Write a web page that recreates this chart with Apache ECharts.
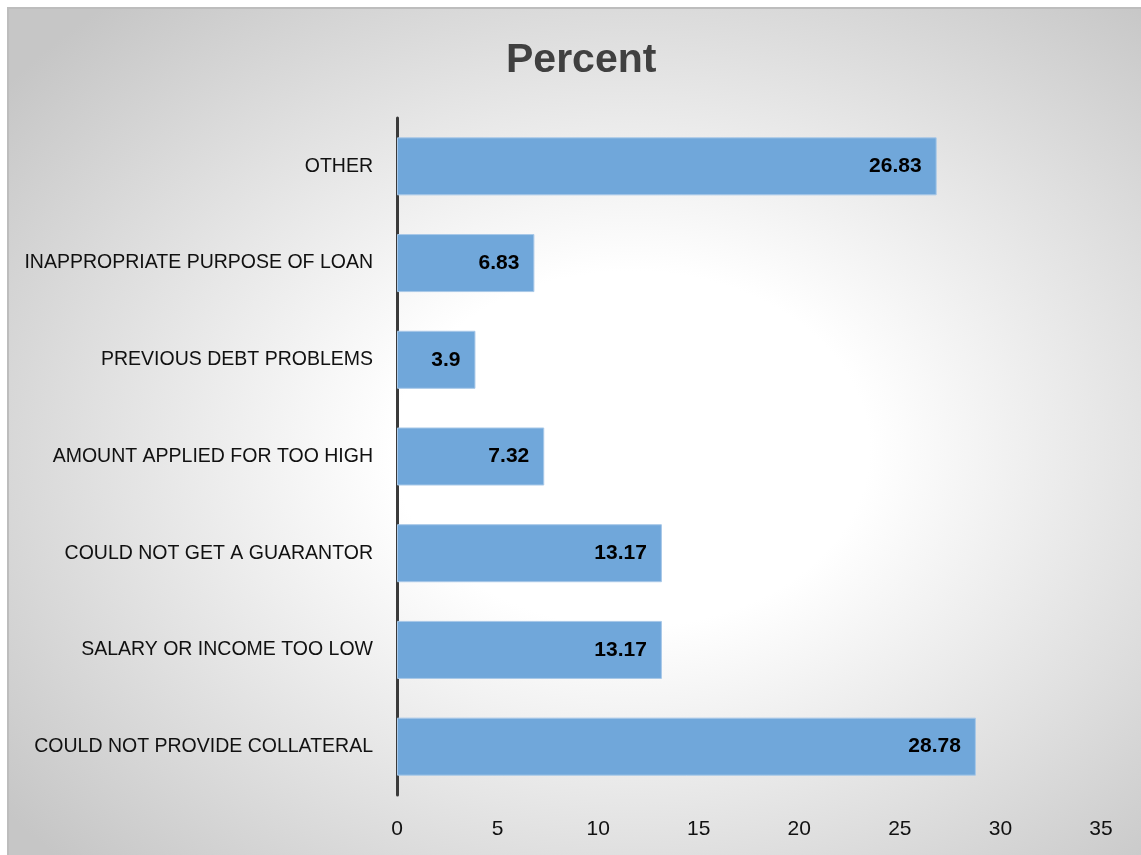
<!DOCTYPE html>
<html>
<head>
<meta charset="utf-8">
<script src="https://cdn.jsdelivr.net/npm/echarts@6/dist/echarts.min.js"></script>
<style>
    html, body { margin: 0; padding: 0; background: #fff; }
    #bg {
        position: absolute; left: 7px; top: 7px; width: 1134px; height: 848px;
        border-top: 2px solid #bdbdbd; border-left: 2px solid #bdbdbd;
        box-sizing: border-box;
        background: radial-gradient(ellipse 70% 70% at 55% 52%, #ffffff 30%, #c6c6c6 100%);
    }
    #main { position: absolute; left: 0; top: 0; width: 1141px; height: 855px; }
</style>
</head>
<body>
<div id="bg"></div>
<div id="main"></div>
<script>
// categories, top to bottom
const categories = [
    'OTHER',
    'INAPPROPRIATE PURPOSE OF LOAN',
    'PREVIOUS DEBT PROBLEMS',
    'AMOUNT APPLIED FOR TOO HIGH',
    'COULD NOT GET A GUARANTOR',
    'SALARY OR INCOME TOO LOW',
    'COULD NOT PROVIDE COLLATERAL'
];
const percent = [26.83, 6.83, 3.9, 7.32, 13.17, 13.17, 28.78];
const xTicks = [0, 5, 10, 15, 20, 25, 30, 35];

const font = '"Liberation Sans", Arial, sans-serif';

const option = {
    backgroundColor: 'transparent',
    title: {
        text: 'Percent',
        left: 501,
        top: 35,
        textStyle: { fontFamily: font, fontSize: 41, fontWeight: 'bold', color: '#404040' }
    },
    grid: { left: 397, right: 40, top: 118, bottom: 60 },
    xAxis: {
        type: 'value',
        min: xTicks[0],
        max: xTicks[xTicks.length - 1],
        interval: 5,
        axisLine: { show: false },
        axisTick: { show: false },
        splitLine: { show: false },
        axisLabel: { fontFamily: font, fontSize: 21, color: '#111', margin: 24 }
    },
    yAxis: {
        type: 'category',
        inverse: true,
        data: categories,
        axisLine: { show: true, lineStyle: { color: '#3a3a3a', width: 3 } },
        axisTick: { show: false },
        axisLabel: { fontFamily: font, fontSize: 19.5, color: '#111', margin: 24 }
    },
    series: [
        {
            name: 'Percent',
            type: 'bar',
            data: percent,
            barCategoryGap: '40%',
            itemStyle: { color: '#70a7da', borderColor: '#a8c8e8', borderWidth: 1 },
            label: {
                show: true,
                position: 'insideRight',
                distance: 15,
                fontFamily: font,
                fontSize: 21,
                fontWeight: 'bold',
                color: '#000'
            }
        }
    ]
};

var myChart = echarts.init(document.getElementById('main'));
myChart.setOption(option);
</script>
</body>
</html>
